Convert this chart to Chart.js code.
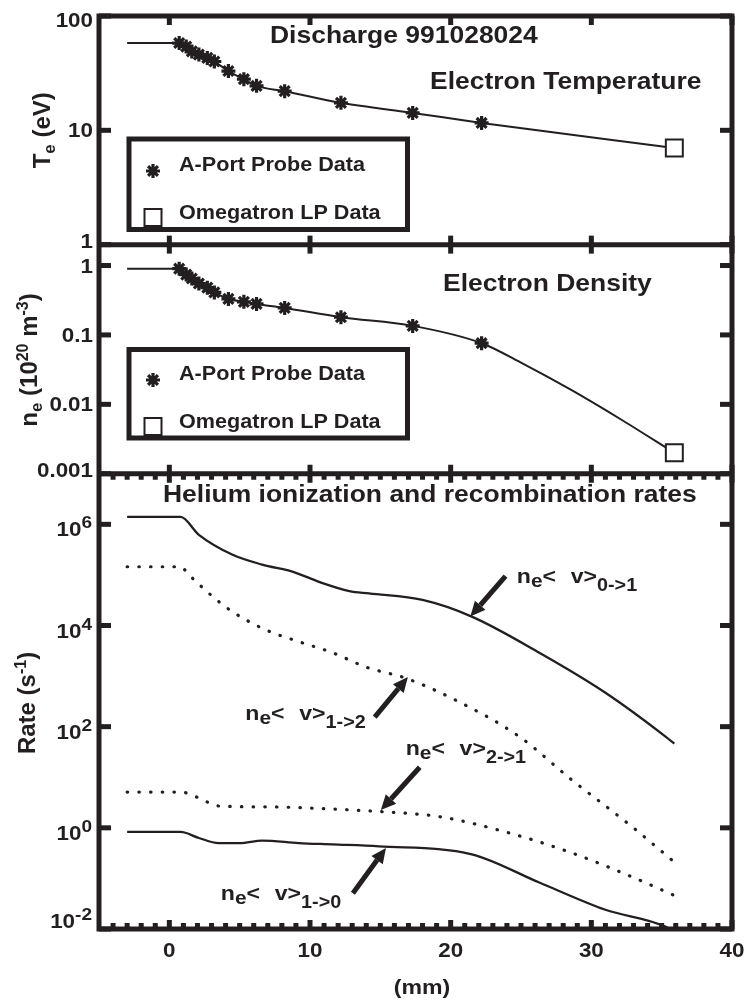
<!DOCTYPE html>
<html>
<head>
<meta charset="utf-8">
<script src="https://cdn.jsdelivr.net/npm/chart.js@4.4.1/dist/chart.umd.min.js"></script>
<style>
html, body { margin: 0; padding: 0; background: #fff; }
#wrap { width: 746px; height: 1003px; }
</style>
</head>
<body>
<div id="wrap"><canvas id="c" width="746" height="1003"></canvas></div>
<script>
const ink = '#231f20';

// axes
const xTicks = [0, 10, 20, 30, 40];
const teTicks = [1, 10, 100];
const teTickLabels = ['1', '10', '100'];
const neTicks = [0.001, 0.01, 0.1, 1];
const neTickLabels = ['0.001', '0.01', '0.1', '1'];
const rateTicks = [1e-2, 1, 1e2, 1e4, 1e6];
const rateTickExp = ['-2', '0', '2', '4', '6'];

// A-Port probe data (mm)
const portX = [0.7, 1.2, 1.6, 2.1, 2.7, 3.2, 4.2, 5.3, 6.2, 8.2, 12.2, 17.3, 22.2];
const tePort = [58, 54, 49, 46, 43, 40, 33, 28, 24.5, 22, 17.4, 14.2, 11.6];
const nePort = [0.9, 0.74, 0.65, 0.55, 0.48, 0.41, 0.33, 0.30, 0.28, 0.245, 0.18, 0.135, 0.076];

// Omegatron LP data
const omegaX = [35.9];
const teOmega = [7.0];
const neOmega = [0.002];

// fitted profiles
const teFitX = [-3, 0.7, 1.2, 1.6, 2.1, 2.7, 3.2, 4.2, 5.3, 6.2, 8.2, 12.2, 17.3, 22.2, 35.9];
const teFit = [58, 58, 54, 49, 46, 43, 40, 33, 28, 24.5, 22, 17.4, 14.2, 11.6, 7.0];
const neFitX = [-3, 0.7, 1.2, 1.6, 2.1, 2.7, 3.2, 4.2, 5.3, 6.2, 8.2, 12.2, 17.3, 22.2, 25.1, 28.6, 32.2, 35.9];
const neFit = [0.9, 0.9, 0.74, 0.65, 0.55, 0.48, 0.41, 0.33, 0.30, 0.28, 0.245, 0.18, 0.135, 0.076, 0.039, 0.016, 0.0059, 0.002];

// helium rates (s^-1)
const r01X = [-3, 0.8, 2.1, 4.5, 6.6, 8.8, 10.7, 12.8, 14.2, 18, 21.5, 26.3, 31, 35.3, 35.9];
const r01 = [1.4e6, 1.4e6, 6.2e5, 2.5e5, 1.6e5, 1.15e5, 7.2e4, 4.8e4, 4.3e4, 3.2e4, 1.5e4, 2.9e3, 470, 63, 46];
const r12X = [-3, 0.8, 1.4, 3.1, 4.5, 6.9, 9.2, 11.6, 14, 16.8, 20.3, 24.9, 28.6, 32.9, 35.9];
const r12 = [1.45e5, 1.45e5, 1.0e5, 3.7e4, 1.86e4, 8.1e3, 4.8e3, 2.9e3, 1.5e3, 910, 340, 63, 8.9, 1.05, 0.21];
const r21X = [-3, 0.8, 2.1, 3.5, 6.9, 11.6, 14.9, 19.2, 23.9, 28.6, 32.9, 35.9];
const r21 = [5.1, 5.1, 3.9, 2.7, 2.6, 2.35, 2.1, 1.66, 0.83, 0.32, 0.107, 0.046];
const r10X = [-3, 0.8, 2.1, 3.5, 5, 6.6, 9.2, 11.6, 14.9, 21.5, 26.3, 31, 35.3, 35.9];
const r10 = [0.83, 0.83, 0.63, 0.5, 0.5, 0.56, 0.5, 0.47, 0.43, 0.3, 0.083, 0.024, 0.011, 0.0085];

// curve labels and arrows (data coordinates on the rate axis)
const annoSub = ['0->1', '1->2', '2->1', '1->0'];
const annoX = [24.7, 5.4, 16.8, 3.66];
const annoY = [6.9e4, 135, 27.5, 0.037];
const tailX = [23.9, 14.6, 17.8, 13.05];
const tailY = [9.5e4, 155, 15.8, 0.051];
const tipX = [21.4, 16.96, 15.04, 15.4];
const tipY = [1.5e4, 955, 2.24, 0.40];

const pts = (xs, ys) => xs.map((x, i) => ({ x: x, y: ys[i] }));

function rich(ctx, parts, x, y, align, hs, rot) {
  ctx.save();
  ctx.translate(x, y);
  if (rot) ctx.rotate(rot);
  ctx.scale(hs, 1);
  const font = s => 'bold ' + s + 'px "Liberation Sans", Arial, sans-serif';
  let w = 0;
  parts.forEach(p => { ctx.font = font(p[1]); w += ctx.measureText(p[0]).width; });
  let cx = align === 'right' ? -w : align === 'center' ? -w / 2 : 0;
  ctx.fillStyle = ink;
  ctx.textAlign = 'left';
  ctx.textBaseline = 'alphabetic';
  parts.forEach(p => {
    ctx.font = font(p[1]);
    ctx.fillText(p[0], cx, p[2] || 0);
    cx += ctx.measureText(p[0]).width;
  });
  ctx.restore();
}

function star(ctx, x, y, r) {
  ctx.beginPath();
  for (let k = 0; k < 4; k++) {
    const a = k * Math.PI / 4;
    ctx.moveTo(x - r * Math.cos(a), y - r * Math.sin(a));
    ctx.lineTo(x + r * Math.cos(a), y + r * Math.sin(a));
  }
  ctx.stroke();
}

function arrow(ctx, x1, y1, x2, y2) {
  const ang = Math.atan2(y2 - y1, x2 - x1);
  const hl = 15, hw = 7;
  const bx = x2 - hl * Math.cos(ang), by = y2 - hl * Math.sin(ang);
  ctx.lineWidth = 5;
  ctx.lineCap = 'butt';
  ctx.beginPath();
  ctx.moveTo(x1, y1);
  ctx.lineTo(bx, by);
  ctx.stroke();
  ctx.beginPath();
  ctx.moveTo(x2, y2);
  ctx.lineTo(bx + hw * Math.sin(ang), by - hw * Math.cos(ang));
  ctx.lineTo(bx - hw * Math.sin(ang), by + hw * Math.cos(ang));
  ctx.closePath();
  ctx.fill();
}

const framePlugin = {
  id: 'frame',
  afterDraw(chart) {
    const ctx = chart.ctx, a = chart.chartArea, sx = chart.scales.x;
    const te = chart.scales.yTe, ne = chart.scales.yNe, rt = chart.scales.yRate;
    const panels = [te, ne, rt];
    ctx.save();
    ctx.fillStyle = ink;
    ctx.strokeStyle = ink;

    // tick marks
    panels.forEach(s => {
      s.ticks.forEach(t => {
        const y = s.getPixelForValue(t.value);
        ctx.fillRect(a.left, y - 2.5, 12, 5);
        ctx.fillRect(a.right - 12, y - 2.5, 12, 5);
      });
      sx.ticks.forEach(t => {
        const x = sx.getPixelForValue(t.value);
        ctx.fillRect(x - 2.5, s.top, 5, 9);
        ctx.fillRect(x - 2.5, s.bottom - 9, 5, 9);
      });
    });
    for (let v = -4; v < 40; v++) {
      if (v % 10 === 0) continue;
      const x = sx.getPixelForValue(v);
      ctx.fillRect(x - 2.5, rt.top, 5, 6);
      ctx.fillRect(x - 2.5, rt.bottom - 6, 5, 6);
    }

    // frame
    ctx.lineWidth = 5;
    ctx.lineCap = 'square';
    ctx.beginPath();
    ctx.moveTo(a.left, a.top); ctx.lineTo(a.left, a.bottom);
    ctx.moveTo(a.right, a.top); ctx.lineTo(a.right, a.bottom);
    panels.forEach(s => { ctx.moveTo(a.left, s.top); ctx.lineTo(a.right, s.top); });
    ctx.moveTo(a.left, a.bottom); ctx.lineTo(a.right, a.bottom);
    ctx.stroke();

    // tick labels
    const yLab = (s, vals, texts) => vals.forEach((v, i) => {
      const y = Math.min(Math.max(s.getPixelForValue(v), s.top + 4), s.bottom - 4);
      rich(ctx, [[texts[i], 20, 0]], 93, y + 7, 'right', 1.12);
    });
    yLab(te, teTicks, teTickLabels);
    yLab(ne, neTicks, neTickLabels);
    rateTicks.forEach((v, i) => {
      const y = Math.min(rt.getPixelForValue(v) + 12, rt.bottom - 1);
      rich(ctx, [['10', 20, 0], [rateTickExp[i], 17, -8]], 92, y, 'right', 1.12);
    });
    xTicks.forEach(v => rich(ctx, [[String(v), 20, 0]], sx.getPixelForValue(v), 957, 'center', 1.12));
    rich(ctx, [['(mm)', 21, 0]], 422, 994, 'center', 1.1);

    // axis titles
    const up = -Math.PI / 2;
    rich(ctx, [['T', 24, 0], ['e', 17, 5], [' (eV)', 24, 0]], 50, (te.top + te.bottom) / 2, 'center', 1, up);
    rich(ctx, [['n', 24, 0], ['e', 17, 5], [' (10', 24, 0], ['20', 16, -9], [' m', 24, 0], ['-3', 16, -9], [')', 24, 0]], 37, 360, 'center', 1, up);
    rich(ctx, [['Rate (s', 24, 0], ['-1', 16, -9], [')', 24, 0]], 35, 703, 'center', 1, up);

    // panel titles
    rich(ctx, [['Discharge 991028024', 24.5, 0]], 270, 43, 'left', 1.08);
    rich(ctx, [['Electron Temperature', 24.5, 0]], 430, 89, 'left', 1.08);
    rich(ctx, [['Electron Density', 24.5, 0]], 443, 291, 'left', 1.08);
    rich(ctx, [['Helium ionization and recombination rates', 24.5, 0]], 163, 502, 'left', 1.08);

    // legends
    [[139, 229.5, 171, 218], [349.5, 438, 380, 427]].forEach(b => {
      ctx.lineWidth = 5;
      ctx.lineCap = 'butt';
      ctx.strokeRect(129, b[0], 278.5, b[1] - b[0]);
      ctx.lineWidth = 3.2;
      star(ctx, 153, b[2], 7);
      ctx.lineWidth = 2;
      ctx.strokeRect(144.5, b[3] - 9, 17, 17);
      rich(ctx, [['A-Port Probe Data', 20, 0]], 179, b[2], 'left', 1.08);
      rich(ctx, [['Omegatron LP Data', 20, 0]], 179, b[3] + 0.5, 'left', 1.08);
    });

    // curve labels with arrows
    annoSub.forEach((sub, i) => {
      rich(ctx, [['n', 21, 0], ['e', 19, 4], ['<', 21, 0], ['  ', 24, 0], ['v', 21, 0], ['>', 21, 0], [sub, 18, 8]],
        sx.getPixelForValue(annoX[i]), rt.getPixelForValue(annoY[i]), 'left', 1.1);
      arrow(ctx, sx.getPixelForValue(tailX[i]), rt.getPixelForValue(tailY[i]),
        sx.getPixelForValue(tipX[i]), rt.getPixelForValue(tipY[i]));
    });
    ctx.restore();
  }
};

const marker = (xs, ys, axis, style) => Object.assign({
  data: pts(xs, ys), yAxisID: axis, showLine: false,
  borderColor: ink, backgroundColor: ink
}, style);
const curve = (xs, ys, axis, style) => Object.assign({
  data: pts(xs, ys), yAxisID: axis, showLine: true, pointRadius: 0,
  borderColor: ink, borderWidth: 2.3, fill: false, cubicInterpolationMode: 'monotone'
}, style);
const starStyle = { pointStyle: 'star', pointRadius: 7, borderWidth: 3.2 };
const boxStyle = { pointStyle: 'rect', pointRadius: 12, borderWidth: 2, backgroundColor: '#fff' };
const dotStyle = { borderWidth: 3.2, borderDash: [0.5, 11.2], borderCapStyle: 'round' };

const logAxis = (min, max, weight, ticks) => ({
  type: 'logarithmic', position: 'left', stack: 'panels', stackWeight: weight,
  min: min, max: max,
  afterBuildTicks: s => { s.ticks = ticks.map(v => ({ value: v })); },
  afterFit: s => { s.width = 99; },
  grid: { display: false }, border: { display: false }, ticks: { display: false }
});

new Chart(document.getElementById('c'), {
  type: 'scatter',
  data: {
    datasets: [
      marker(portX, tePort, 'yTe', starStyle),
      marker(omegaX, teOmega, 'yTe', boxStyle),
      marker(portX, nePort, 'yNe', starStyle),
      marker(omegaX, neOmega, 'yNe', boxStyle),
      curve(teFitX, teFit, 'yTe', { borderWidth: 2 }),
      curve(neFitX, neFit, 'yNe', { borderWidth: 2 }),
      curve(r01X, r01, 'yRate', {}),
      curve(r12X, r12, 'yRate', dotStyle),
      curve(r21X, r21, 'yRate', dotStyle),
      curve(r10X, r10, 'yRate', {})
    ]
  },
  options: {
    responsive: false,
    animation: false,
    devicePixelRatio: 1,
    events: [],
    layout: { padding: { top: 16, right: 14, left: 0, bottom: 0 } },
    plugins: { legend: { display: false }, tooltip: { enabled: false } },
    scales: {
      x: {
        type: 'linear', min: -5, max: 40,
        afterBuildTicks: s => { s.ticks = xTicks.map(v => ({ value: v })); },
        afterFit: s => { s.height = 74; },
        grid: { display: false }, border: { display: false }, ticks: { display: false }
      },
      yRate: logAxis(1e-2, 1e7, 455, rateTicks),
      yNe: logAxis(0.001, 2, 229, neTicks),
      yTe: logAxis(1, 100, 228.5, teTicks)
    }
  },
  plugins: [framePlugin]
});
</script>
</body>
</html>
